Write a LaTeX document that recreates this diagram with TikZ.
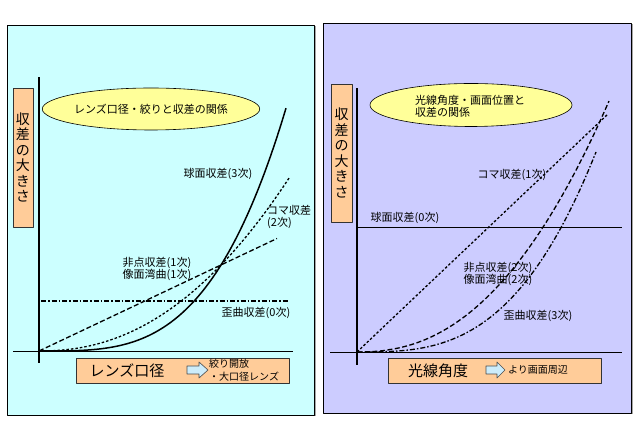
\documentclass[tikz,border=0pt]{standalone}
\usepackage{fontspec}
\setmainfont{Noto Sans CJK JP}
\usetikzlibrary{shapes.geometric}
\definecolor{leftbg}{RGB}{204,255,255}
\definecolor{rightbg}{RGB}{204,204,255}
\definecolor{orangebg}{RGB}{255,204,153}
\definecolor{ovalbg}{RGB}{255,255,153}
\definecolor{arrowbg}{RGB}{204,236,250}
\begin{document}
\begin{tikzpicture}[x=1pt, y=1pt, font=\fontsize{11}{12}\selectfont, line join=round, line cap=butt,
	panel/.style={draw=black, line width=0.8pt},
	ybox/.style={draw=black!80, line width=0.7pt, fill=orangebg, minimum width=20pt, minimum height=139pt, inner sep=0pt, align=center, font=\fontsize{14}{15.5}\selectfont},
	xbox/.style={draw=black!80, line width=0.7pt, fill=orangebg, minimum width=213pt, minimum height=25pt, inner sep=0pt},
	oval/.style={ellipse, draw=black, line width=0.6pt, fill=ovalbg, minimum width=202pt, minimum height=42pt, inner sep=0pt},
	lab/.style={inner sep=0pt, align=left},
	dotline/.style={line width=1.3pt, dash pattern=on 2.5pt off 2pt},
	dashline/.style={line width=1.3pt, dash pattern=on 5pt off 2.5pt},
	dashdotline/.style={line width=1.3pt, dash pattern=on 5pt off 2pt on 1.5pt off 2pt}]
	\useasboundingbox[fill=white] (0,0) rectangle (640,430);
	% left panel
	\fill[gray!70] (8.5,13.5) rectangle (315.5,403.5);
	\draw[panel, fill=leftbg] (7,15) rectangle (314,405);
	\node[ybox] (ylabL) at (23,272.5) {収\\差\\の\\大\\き\\さ};
	\node[oval] (titleL) at (151,321) {レンズ口径・絞りと収差の関係};
	\node[xbox] (xboxL) at (182.5,59.5) {};
	\node[font=\fontsize{15}{15}\selectfont] (xlabL) at (127,59.5) {レンズ口径};
	\draw[black!70, line width=0.6pt, fill=arrowbg] (187,56)--(199,56)--(199,52)--(208,60)--(199,68)--(199,64)--(187,64)--cycle;
	\node[lab, anchor=west, font=\fontsize{10}{13}\selectfont] (dirL) at (209,60) {絞り開放\\・大口径レンズ};
	\coordinate (OL) at (39,79);
	\coordinate (ytopL) at (39,353);
	\coordinate (ybotL) at (39,67);
	\coordinate (xleftL) at (13,79);
	\coordinate (xrightL) at (293,79);
	\draw[line width=1.6pt] (ybotL) -- (ytopL);
	\draw[line width=0.9pt] (xleftL) -- (xrightL);
	\begin{scope}[shift={(OL)}]
		\draw[line width=1.5pt, smooth, domain=0.5:247, samples=80] plot (\x, {86*(\x/182)^3.4});
		\draw[dotline, smooth, domain=0.5:251, samples=80] plot (\x, {86*(\x/182)^2.2});
		\draw[dashline] (0,0) -- (238,112.5);
		\draw[dashdotline] (2,50) -- (249,50);
	\end{scope}
	\node[lab] (sphL) at (218,256) {球面収差(3次)};
	\node[lab, anchor=west] (comaL) at (267,213) {コマ収差\\(2次)};
	\node[lab] (astL) at (157,161.5) {非点収差(1次)\\像面湾曲(1次)};
	\node[lab] (distL) at (256,117) {歪曲収差(0次)};
	% right panel
	\fill[gray!70] (324.5,15.5) rectangle (632.5,405.5);
	\draw[panel, fill=rightbg] (323,17) rectangle (631,407);
	\node[ybox, minimum width=21pt, minimum height=138pt] (ylabR) at (341.5,277) {収\\差\\の\\大\\き\\さ};
	\node[oval, minimum height=43pt] (titleR) at (471,325) {};
	\node[lab, anchor=west] (titletxtR) at (415,324) {光線角度・画面位置と\\収差の関係};
	\node[xbox] (xboxR) at (494.5,59.5) {};
	\node[font=\fontsize{15}{15}\selectfont] (xlabR) at (438,59.5) {光線角度};
	\draw[black!70, line width=0.6pt, fill=arrowbg] (486,56)--(497,56)--(497,52)--(505,60)--(497,68)--(497,64)--(486,64)--cycle;
	\node[lab, font=\fontsize{10}{13}\selectfont] (dirR) at (538,60) {より画面周辺};
	\coordinate (OR) at (357,78);
	\coordinate (ytopR) at (357,342);
	\coordinate (ybotR) at (357,65);
	\coordinate (xleftR) at (330,78);
	\coordinate (xrightR) at (622,78);
	\coordinate (sphleftR) at (358,203);
	\coordinate (sphrightR) at (622,203);
	\draw[line width=1.6pt] (ybotR) -- (ytopR);
	\draw[line width=0.9pt] (xleftR) -- (xrightR);
	\draw[line width=0.9pt] (sphleftR) -- (sphrightR);
	\begin{scope}[shift={(OR)}]
		\draw[dotline] (0,0) -- (251,238);
		\draw[dashline, smooth, domain=0.5:252, samples=80] plot (\x, {251*(\x/252)^2.3});
		\draw[dashdotline, smooth, domain=0.5:239, samples=80] plot (\x, {200*(\x/239)^3});
	\end{scope}
	\node[lab] (comaR) at (512,255) {コマ収差(1次)};
	\node[lab] (sphR) at (405,212) {球面収差(0次)};
	\node[lab] (astR) at (498,156.5) {非点収差(2次)\\像面湾曲(2次)};
	\node[lab] (distR) at (538,114) {歪曲収差(3次)};
\end{tikzpicture}
\end{document}
